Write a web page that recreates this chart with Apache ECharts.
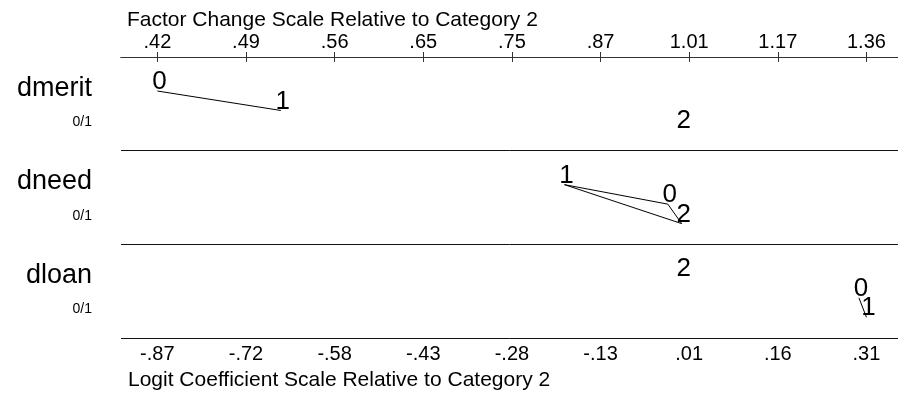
<!DOCTYPE html>
<html>
<head>
<meta charset="utf-8">
<script src="https://cdn.jsdelivr.net/npm/echarts@6/dist/echarts.min.js"></script>
<style>html,body{margin:0;padding:0;background:#fff}#c{width:898px;height:396px}</style>
</head>
<body>
<div id="c"></div>
<script>
// ---- data ----
const variables = ['dmerit', 'dneed', 'dloan'];
const rangeLabels = ['0/1', '0/1', '0/1'];
const outcomes = ['0', '1', '2'];
// logit coefficients relative to category 2, per outcome [0, 1, 2]
const coefDmerit = [-0.8725, -0.667, 0];
const coefDneed = [-0.023, -0.195, 0];
const coefDloan = [0.295, 0.3075, 0];
// pairs of outcomes joined by a line (not significantly different)
const linksDmerit = [[0, 1]];
const linksDneed = [[1, 0], [1, 2], [0, 2]];
const linksDloan = [[0, 1]];
// axis ticks
const logitTicks = [-0.8725, -0.725, -0.5775, -0.43, -0.2825, -0.135, 0.0125, 0.16, 0.3075];
const logitTickLabels = ['-.87', '-.72', '-.58', '-.43', '-.28', '-.13', '.01', '.16', '.31'];
const factorTickLabels = ['.42', '.49', '.56', '.65', '.75', '.87', '1.01', '1.17', '1.36'];
const topTitle = 'Factor Change Scale Relative to Category 2';
const bottomTitle = 'Logit Coefficient Scale Relative to Category 2';

// ---- build ----
const FONT = 'Liberation Sans, Arial, sans-serif';
const panels = [
  {coef: coefDmerit, links: linksDmerit},
  {coef: coefDneed, links: linksDneed},
  {coef: coefDloan, links: linksDloan}
];
function labelFor(value, labels) {
  let best = 0, d = Infinity;
  logitTicks.forEach((t, i) => { const dd = Math.abs(t - value); if (dd < d) { d = dd; best = i; } });
  return labels[best];
}
const series = [];
panels.forEach((p, pi) => {
  const order = p.coef.map((v, i) => i).sort((a, b) => p.coef[a] - p.coef[b]);
  const yOf = {};
  order.forEach((oi, r) => { yOf[oi] = pi + 0.363 + 0.208 * r; });
  p.links.forEach(([a, b]) => {
    series.push({
      type: 'line', xAxisIndex: 1, yAxisIndex: 0, silent: true, symbol: 'none',
      lineStyle: {color: '#000', width: 1}, z: 2,
      data: [[p.coef[a], yOf[a]], [p.coef[b], yOf[b]]]
    });
  });
  series.push({
    type: 'scatter', xAxisIndex: 1, yAxisIndex: 0, silent: true, symbolSize: 0.1,
    itemStyle: {color: '#000', opacity: 0}, z: 3,
    label: {show: true, position: 'top', distance: -4, offset: [2, 0], formatter: '{b}',
      fontFamily: FONT, fontSize: 26, color: '#000', opacity: 1, textBorderWidth: 0},
    data: p.coef.map((v, i) => ({name: outcomes[i], value: [v, yOf[i]]}))
  });
});

const axisColor = '#333';
const chart = echarts.init(document.getElementById('c'), null, {renderer: 'canvas'});
chart.setOption({
  animation: false,
  backgroundColor: '#fff',
  title: [
    {text: topTitle, left: 127, top: 10, textStyle: {fontFamily: FONT, fontSize: 21, fontWeight: 'normal', color: '#000'}, padding: 0},
    {text: bottomTitle, left: 128, top: 370, textStyle: {fontFamily: FONT, fontSize: 21, fontWeight: 'normal', color: '#000'}, padding: 0}
  ],
  grid: {left: 121, right: 0, top: 57, bottom: 58, containLabel: false},
  xAxis: [
    {type: 'value', position: 'top', min: -0.933, max: 0.36,
      axisLine: {show: true, lineStyle: {color: axisColor, width: 1}},
      axisTick: {show: true, inside: true, length: 5, customValues: logitTicks, lineStyle: {color: axisColor}},
      axisLabel: {show: true, customValues: logitTicks, margin: 5, fontFamily: FONT, fontSize: 20, color: '#000',
        formatter: v => labelFor(v, factorTickLabels)},
      splitLine: {show: false}},
    {type: 'value', position: 'bottom', min: -0.933, max: 0.36,
      axisLine: {show: true, lineStyle: {color: axisColor, width: 1}},
      axisTick: {show: true, inside: true, length: 5, customValues: logitTicks, lineStyle: {color: axisColor}},
      axisLabel: {show: true, customValues: logitTicks, margin: 6, fontFamily: FONT, fontSize: 20, color: '#000',
        formatter: v => labelFor(v, logitTickLabels)},
      splitLine: {show: false}}
  ],
  yAxis: [
    {type: 'value', position: 'left', min: 0, max: 3, interval: 1, inverse: true,
      axisLine: {show: false}, axisTick: {show: false}, axisLabel: {show: false},
      splitLine: {show: true, lineStyle: {color: '#111', width: 1}}},
    {type: 'value', position: 'left', min: 0, max: 3, inverse: true,
      axisLine: {show: false}, axisTick: {show: false}, splitLine: {show: false},
      axisLabel: {show: true, margin: 29, customValues: [0.53, 1.53, 2.53],
        formatter: v => { const i = Math.floor(v); return '{n|' + variables[i] + '}\n{s|' + rangeLabels[i] + '}'; },
        rich: {
          n: {fontFamily: FONT, fontSize: 27, lineHeight: 31, align: 'right', color: '#000'},
          s: {fontFamily: FONT, fontSize: 14, lineHeight: 37, align: 'right', color: '#000'}
        }}}
  ],
  series: series
});
</script>
</body>
</html>
